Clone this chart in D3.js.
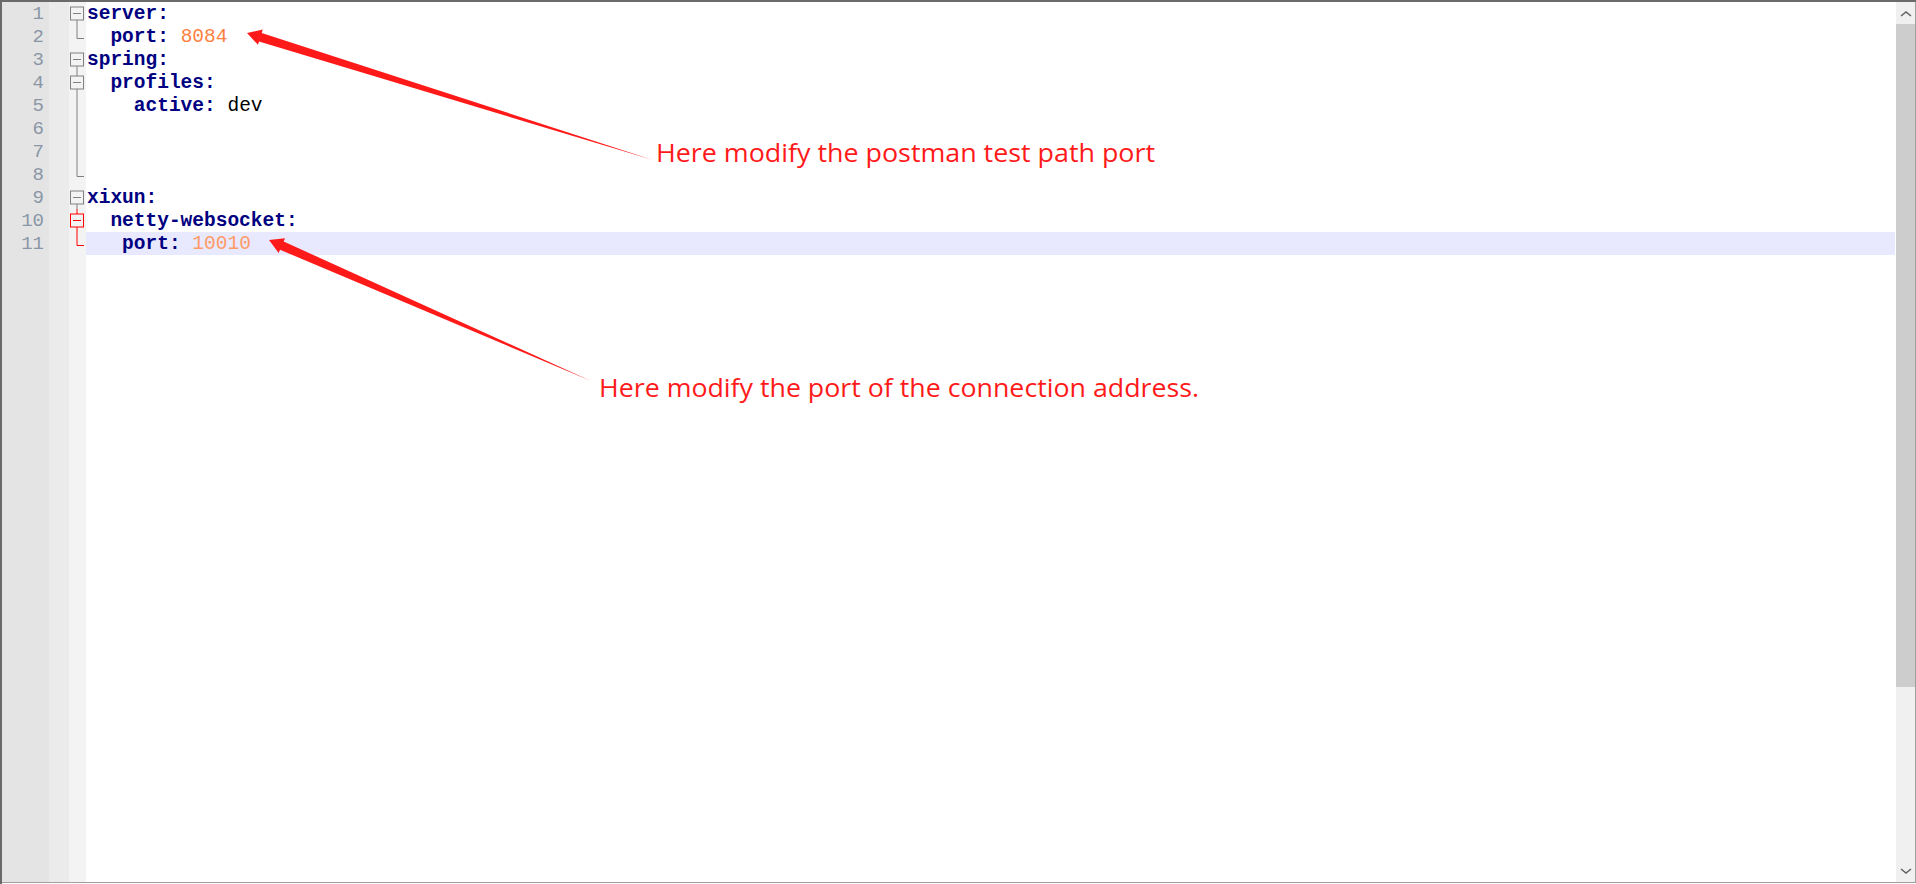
<!DOCTYPE html>
<html><head><meta charset="utf-8">
<script src="https://cdn.jsdelivr.net/npm/d3@7"></script>
<style>body{margin:0;background:#fff;overflow:hidden}</style>
</head><body>
<svg id="ed" width="1916" height="884"></svg>
<script>
// editor content: each line is a list of [text, kind]
const codeLines = [
  [["server:", "key"]],
  [["  port: ", "key"], ["8084", "num"]],
  [["spring:", "key"]],
  [["  profiles:", "key"]],
  [["    active: ", "key"], ["dev", "val"]],
  [],
  [],
  [],
  [["xixun:", "key"]],
  [["  netty-websocket:", "key"]],
  [["   port: ", "key"], ["10010", "num2"]]
];
const lineNumbers = d3.range(1, 12);
// fold marks per line: box = fold toggle, bar = continuation, end = └
const foldMarks = ["box", "end", "box", "box", "bar", "bar", "bar", "end", "box", "boxRed", "endRed"];
const activeLine = 11;
const notes = [
  { text: "Here modify the postman test path port", tip: [247, 33], tail: [653, 160], at: [656, 162], w: 499 },
  { text: "Here modify the port of the connection address.", tip: [269, 240], tail: [591, 381], at: [599, 397], w: 600 }
];

const W = 1916, H = 884;
const svg = d3.select('#ed');
const y = d3.scaleBand().domain(lineNumbers).range([2, 2 + 23 * 11]);
const colors = { key: '#000080', num: '#ff8040', num2: '#ff9a66', val: '#000' };

// margins
svg.append('rect').attr('x', 0).attr('y', 0).attr('width', W).attr('height', H).attr('fill', '#fff');
svg.append('rect').attr('x', 2).attr('y', 2).attr('width', 47).attr('height', H - 4).attr('fill', '#e4e4e4');
svg.append('rect').attr('x', 49).attr('y', 2).attr('width', 20).attr('height', H - 4).attr('fill', '#ebebeb');
svg.append('rect').attr('x', 69).attr('y', 2).attr('width', 17).attr('height', H - 4).attr('fill', '#f3f3f3');
// active line
svg.append('rect').attr('x', 86).attr('y', y(activeLine)).attr('width', 1895 - 86)
  .attr('height', y.bandwidth()).attr('fill', '#e8e8ff');

// line numbers
svg.selectAll('text.ln').data(lineNumbers).enter().append('text')
  .attr('class', 'ln').attr('x', 44).attr('y', d => y(d) + 17)
  .attr('text-anchor', 'end').attr('font-family', 'Liberation Mono').attr('font-size', 19)
  .attr('fill', '#8a96a6').text(d => d);

// fold margin
const fx = 77;
foldMarks.forEach((m, i) => {
  const top = y(i + 1), mid = top + 11.5, bot = top + 23;
  const c = m.endsWith('Red') ? '#ff0000' : '#808080';
  const g = svg.append('g').attr('stroke', c).attr('fill', 'none').attr('stroke-width', 1);
  if (m.startsWith('box')) {
    g.append('rect').attr('x', fx - 6.5).attr('y', mid - 6.5).attr('width', 13).attr('height', 13).attr('fill', '#f3f3f3');
    g.append('line').attr('x1', fx - 4).attr('x2', fx + 4).attr('y1', mid).attr('y2', mid);
    if (i > 0 && foldMarks[i - 1] !== 'end' && m !== 'box' || i === 3) g.append('line').attr('x1', fx).attr('x2', fx).attr('y1', top).attr('y2', mid - 6.5);
    g.append('line').attr('x1', fx).attr('x2', fx).attr('y1', mid + 6.5).attr('y2', bot);
  } else if (m === 'bar') {
    g.append('line').attr('x1', fx).attr('x2', fx).attr('y1', top).attr('y2', bot);
  } else {
    g.append('path').attr('d', `M${fx},${top}V${mid + 2}H${fx + 7}`);
  }
});

// code text
const code = svg.selectAll('text.code').data(codeLines).enter().append('text')
  .attr('class', 'code').attr('x', 87).attr('y', (d, i) => y(i + 1) + 17)
  .attr('font-family', 'Liberation Mono').attr('font-size', 19.5).attr('xml:space', 'preserve')
  .style('white-space', 'pre');
code.selectAll('tspan').data(d => d).enter().append('tspan')
  .attr('fill', d => colors[d[1]]).attr('font-weight', d => d[1] === 'key' ? 'bold' : 'normal')
  .text(d => d[0]);

// scrollbar + border
svg.append('rect').attr('x', 1896).attr('y', 2).attr('width', 19).attr('height', 880).attr('fill', '#f0f0f0');
svg.append('rect').attr('x', 1896).attr('y', 24).attr('width', 19).attr('height', 663).attr('fill', '#cdcdcd');
svg.append('path').attr('d', 'M1901,16l5,-4l5,4').attr('stroke', '#606060').attr('stroke-width', 1.5).attr('fill', 'none');
svg.append('path').attr('d', 'M1901,869l5,4l5,-4').attr('stroke', '#606060').attr('stroke-width', 1.5).attr('fill', 'none');
svg.append('rect').attr('x', 0.5).attr('y', 0.5).attr('width', W - 1).attr('height', H - 2)
  .attr('fill', 'none').attr('stroke', '#a0a0a0');
svg.append('line').attr('x1', 0).attr('x2', W).attr('y1', 1).attr('y2', 1).attr('stroke', '#6a6a6a').attr('stroke-width', 2);
svg.append('line').attr('x1', 1).attr('x2', 1).attr('y1', 0).attr('y2', H).attr('stroke', '#6a6a6a').attr('stroke-width', 2);

// tapered arrows with notes
notes.forEach(n => {
  const [tx, ty] = n.tip, [sx, sy] = n.tail;
  const dx = tx - sx, dy = ty - sy, L = Math.hypot(dx, dy);
  const ux = dx / L, uy = dy / L, px = -uy, py = ux;
  const hl = 14, hw = 8, sw = 4.5;
  const bx = tx - ux * hl, by = ty - uy * hl;
  const pts = [[sx, sy], [bx + px * sw, by + py * sw], [bx + px * hw, by + py * hw], [tx, ty],
    [bx - px * hw, by - py * hw], [bx - px * sw, by - py * sw]];
  svg.append('path').attr('d', d3.line()(pts) + 'Z').attr('fill', '#ff1a1a');
  svg.append('text').attr('x', n.at[0]).attr('y', n.at[1]).attr('fill', '#ff1a1a')
    .attr('font-family', 'Open Sans').attr('font-size', 26).attr('textLength', n.w)
    .attr('lengthAdjust', 'spacingAndGlyphs').text(n.text);
});
</script>
</body></html>
